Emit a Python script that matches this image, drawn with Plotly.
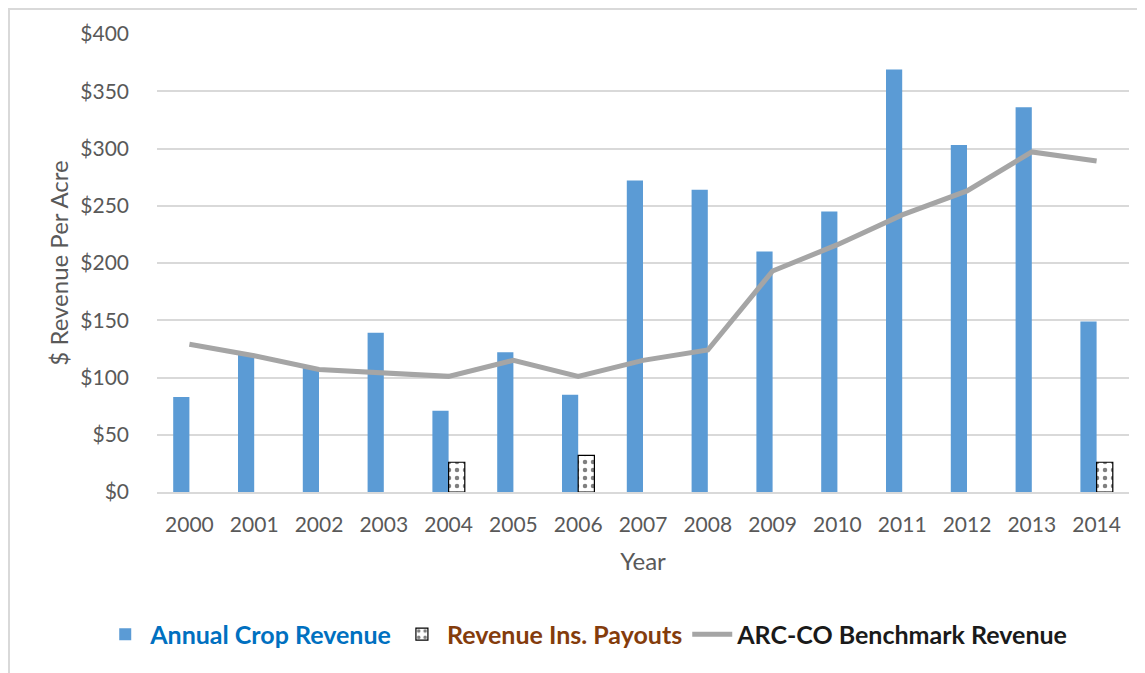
import plotly.graph_objects as go

years = [str(y) for y in range(2000, 2015)]
crop_revenue = [83, 121, 109, 139, 71, 122, 85, 272, 264, 210, 245, 369, 303, 336, 149]
ins_payouts = [None, None, None, None, 26, None, 32, None, None, None, None, None, None, None, 26]
benchmark = [129, 119, 107, 104, 101, 115, 101, 115, 124, 193, 216, 242, 263, 297, 289]

FONT = "Lato"
fig = go.Figure()
fig.add_trace(go.Bar(
    x=years, y=crop_revenue,
    name="<span style='color:#0070C0'><b>Annual Crop Revenue</b></span>",
    marker=dict(color="#5B9BD5", line=dict(width=0)),
))
fig.add_trace(go.Bar(
    x=years, y=ins_payouts,
    name="<span style='color:#843C0C'><b>Revenue Ins. Payouts</b></span>",
    marker=dict(color="white", line=dict(color="black", width=1.2),
                pattern=dict(shape=".", fgcolor="black", bgcolor="white", size=8, solidity=0.25)),
))
fig.add_trace(go.Scatter(
    x=years, y=benchmark, mode="lines",
    name="<span style='color:#1a1a1a'><b>ARC-CO Benchmark Revenue</b></span>",
    line=dict(color="#A5A5A5", width=5),
))

fig.update_layout(
    width=1137, height=665,
    margin=dict(l=149, r=16, t=26, b=181, autoexpand=False),
    paper_bgcolor="white", plot_bgcolor="white",
    font=dict(family=FONT, size=21, color="#595959"),
    barmode="group", bargap=0.5, bargroupgap=0,
    showlegend=True,
    legend=dict(orientation="h", xref="container", yref="container",
                x=0.509, xanchor="center", y=0.058, yanchor="middle",
                font=dict(family=FONT, size=25), traceorder="normal",
                itemwidth=40, tracegroupgap=0, entrywidth=0),
    xaxis=dict(title=dict(text="Year", standoff=18, font=dict(size=24, color="#595959")),
               showgrid=False, showline=True, linecolor="#D9D9D9", linewidth=2,
               ticks="", ticklabelstandoff=13, tickfont=dict(size=21, color="#595959")),
    yaxis=dict(title=dict(text="$ Revenue Per Acre", standoff=4, font=dict(size=24, color="#595959")),
               range=[0, 400], dtick=50, tickprefix="$",
               showgrid=True, gridcolor="#D9D9D9", gridwidth=1.5, zeroline=False,
               showline=False, ticks="", ticklabelstandoff=27,
               tickfont=dict(size=21, color="#595959")),
    shapes=[dict(type="rect", xref="paper", yref="paper",
                 x0=(1 - 149) / 972, x1=1.05, y0=-0.45, y1=(458 + 25) / 458,
                 line=dict(color="#D9D9D9", width=2), fillcolor="rgba(0,0,0,0)", layer="below")],
)

fig.write_html("out.html")
